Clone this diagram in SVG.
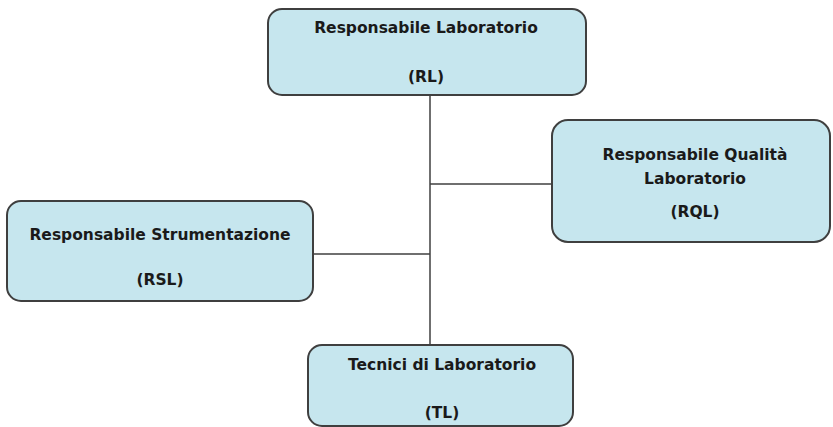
<svg xmlns="http://www.w3.org/2000/svg" width="833" height="427" viewBox="0 0 833 427">
<style>
.box{fill:#c6e6ee;stroke:#3f3f3f;stroke-width:2}
.t{font-family:"DejaVu Sans",Verdana,sans-serif;font-weight:bold;font-size:15.5px;fill:#1a1a1a;text-anchor:middle}
.c{stroke:#3f3f3f;stroke-width:1.5;fill:none}
</style>
<rect width="833" height="427" fill="#ffffff"/>
<g id="connectors">
<line class="c" x1="430" y1="95" x2="430" y2="345"/>
<line class="c" x1="430" y1="184" x2="552" y2="184"/>
<line class="c" x1="313" y1="254" x2="430" y2="254"/>
</g>
<g id="RL">
<rect class="box" x="268" y="9" width="318" height="86" rx="14"/>
<text class="t" x="426" y="33">Responsabile Laboratorio</text>
<text class="t" x="426" y="82">(RL)</text>
</g>
<g id="RQL">
<rect class="box" x="552" y="120" width="278" height="122" rx="16"/>
<text class="t" x="695" y="160">Responsabile Qualità</text>
<text class="t" x="695" y="184">Laboratorio</text>
<text class="t" x="695" y="217">(RQL)</text>
</g>
<g id="RSL">
<rect class="box" x="7" y="201" width="306" height="100" rx="14"/>
<text class="t" x="160" y="240">Responsabile Strumentazione</text>
<text class="t" x="160" y="285">(RSL)</text>
</g>
<g id="TL">
<rect class="box" x="308" y="345" width="265" height="81" rx="14"/>
<text class="t" x="442" y="370">Tecnici di Laboratorio</text>
<text class="t" x="442" y="418">(TL)</text>
</g>
</svg>
